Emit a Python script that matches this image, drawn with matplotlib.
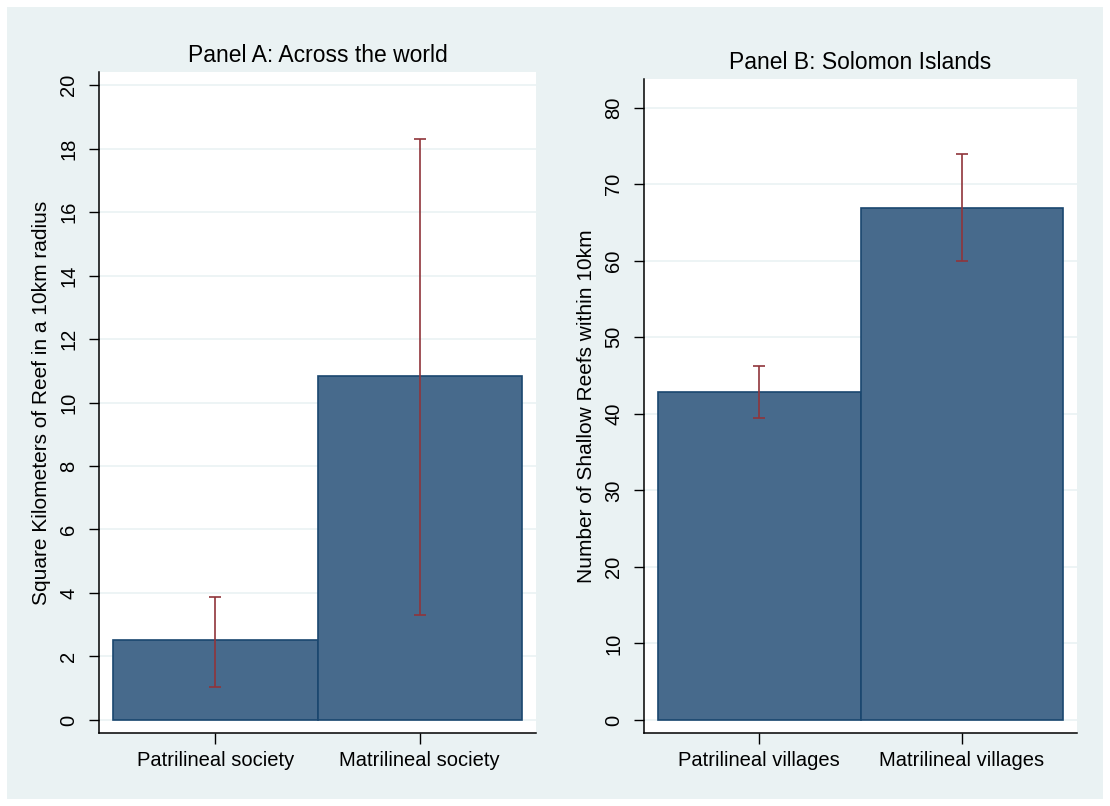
import matplotlib.pyplot as plt
from matplotlib.patches import Rectangle

plt.rcParams['font.family'] = ['Liberation Sans', 'DejaVu Sans']

# Panel A: across the world
labels_a = ['Patrilineal society', 'Matrilineal society']
means_a = [2.51, 10.82]
lo_a = [1.05, 3.32]
hi_a = [3.87, 18.31]

# Panel B: Solomon Islands
labels_b = ['Patrilineal villages', 'Matrilineal villages']
means_b = [42.9, 66.9]
lo_b = [39.5, 60.0]
hi_b = [46.3, 73.9]

bg = '#EAF2F3'
bar_col = '#476A8C'
edge_col = '#1A476F'
err_col = '#90353B'

fig = plt.figure(figsize=(11.1, 8.06), dpi=100, facecolor='white')
fig.patches.append(Rectangle((7 / 1110, 1 - 799 / 806), 1096 / 1110, 792 / 806,
                             transform=fig.transFigure, facecolor=bg,
                             edgecolor='none', zorder=-10))

ax_a = fig.add_axes([99 / 1110, 1 - 733 / 806, 437 / 1110, 661 / 806])
ax_b = fig.add_axes([644 / 1110, 1 - 733 / 806, 433 / 1110, 654 / 806])


def draw(ax, labels, means, lo, hi, ylim, yticks, title, ylabel):
    x = list(range(len(labels)))
    ax.set_facecolor('white')
    for yt in yticks:
        ax.axhline(yt, color=bg, lw=1.2, zorder=1)
    ax.bar(x, means, width=1.0, color=bar_col, edgecolor=edge_col,
           linewidth=1.2, zorder=2)
    yerr = [[m - l for m, l in zip(means, lo)], [h - m for m, h in zip(means, hi)]]
    ax.errorbar(x, means, yerr=yerr, fmt='none', ecolor=err_col,
                elinewidth=1.2, capsize=4, capthick=1.2, zorder=3)
    ax.set_xlim(-0.57, 1.57)
    ax.set_ylim(*ylim)
    ax.set_xticks(x)
    ax.set_xticklabels(labels, fontsize=14.5)
    ax.set_yticks(yticks)
    ax.set_yticklabels([str(v) for v in yticks], rotation=90, va='center',
                       fontsize=14.5)
    ax.tick_params(axis='x', length=8, width=1, pad=5, colors='black')
    ax.tick_params(axis='y', length=7, width=1, pad=8)
    for s in ['top', 'right']:
        ax.spines[s].set_visible(False)
    for s in ['left', 'bottom']:
        ax.spines[s].set_linewidth(1.1)
    ax.set_title(title, fontsize=16.5, pad=7)
    ax.set_ylabel(ylabel, fontsize=15, labelpad=6)


draw(ax_a, labels_a, means_a, lo_a, hi_a, (-0.41, 20.41), list(range(0, 21, 2)),
     'Panel A: Across the world', 'Square Kilometers of Reef in a 10km radius')
draw(ax_b, labels_b, means_b, lo_b, hi_b, (-1.7, 83.75), list(range(0, 81, 10)),
     'Panel B: Solomon Islands', 'Number of Shallow Reefs within 10km')

fig.savefig('out.png', dpi=100, facecolor=fig.get_facecolor())
